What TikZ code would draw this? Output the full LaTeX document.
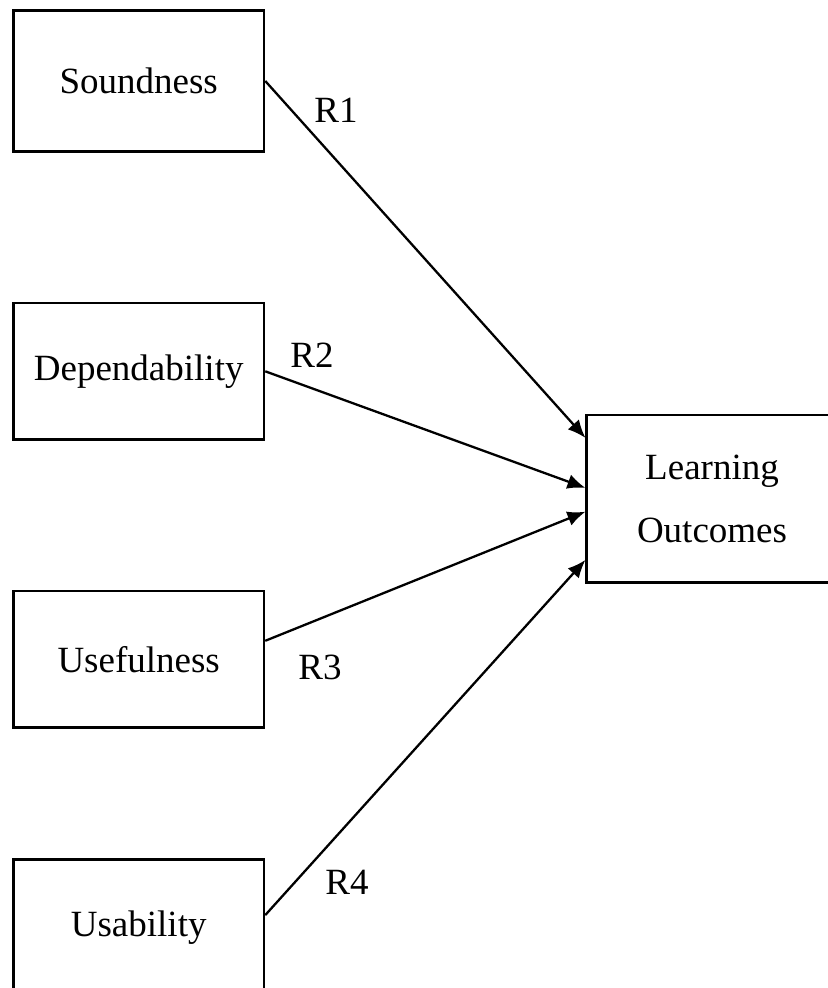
\documentclass[tikz,border=0pt]{standalone}
\usepackage{fontspec}
\setmainfont{Liberation Serif}
\usetikzlibrary{positioning}
\usetikzlibrary{arrows.meta}

\begin{document}
\begin{tikzpicture}[x=0.5pt,y=-0.5pt,
  factor/.style={draw,line width=1.3pt,minimum width=125.25pt,minimum height=68.2pt,inner sep=0pt,font=\fontsize{18.5}{22}\selectfont},
  link/.style={line width=1.15pt,-{Latex[length=9pt,width=7.5pt]}},
  rlabel/.style={font=\fontsize{18.5}{22}\selectfont}]
\useasboundingbox (0,0) rectangle (827,988);

\node[factor,minimum height=70.5pt] (snd) at (138.7,81) {Soundness};
\node[factor] (dep) at (138.7,371.3) {Dependability};
\node[factor] (use) at (138.7,659.2) {Usefulness};
\node[factor] (usa) at (138.7,927.5) {Usability};

\node[factor,minimum height=83.85pt,align=center,font=\fontsize{18.5}{31.5}\selectfont] (lo) at (712,498.9) {Learning\\Outcomes};

\coordinate (in1) at ([yshift=30.5pt]lo.west);
\coordinate (in2) at ([yshift=5.5pt]lo.west);
\coordinate (in3) at ([yshift=-6.4pt]lo.west);
\coordinate (in4) at ([yshift=-30.5pt]lo.west);
\coordinate (out3) at ([yshift=9.2pt]use.east);
\coordinate (out4) at ([yshift=6.2pt]usa.east);

\draw[link] (snd.east) -- (in1);
\draw[link] (dep.east) -- (in2);
\draw[link] (out3) -- (in3);
\draw[link] (out4) -- (in4);

\node[rlabel] (r1) at (336,110) {R1};
\node[rlabel] (r2) at (312,355) {R2};
\node[rlabel] (r3) at (320,667) {R3};
\node[rlabel] (r4) at (347,882) {R4};

\end{tikzpicture}
\end{document}
